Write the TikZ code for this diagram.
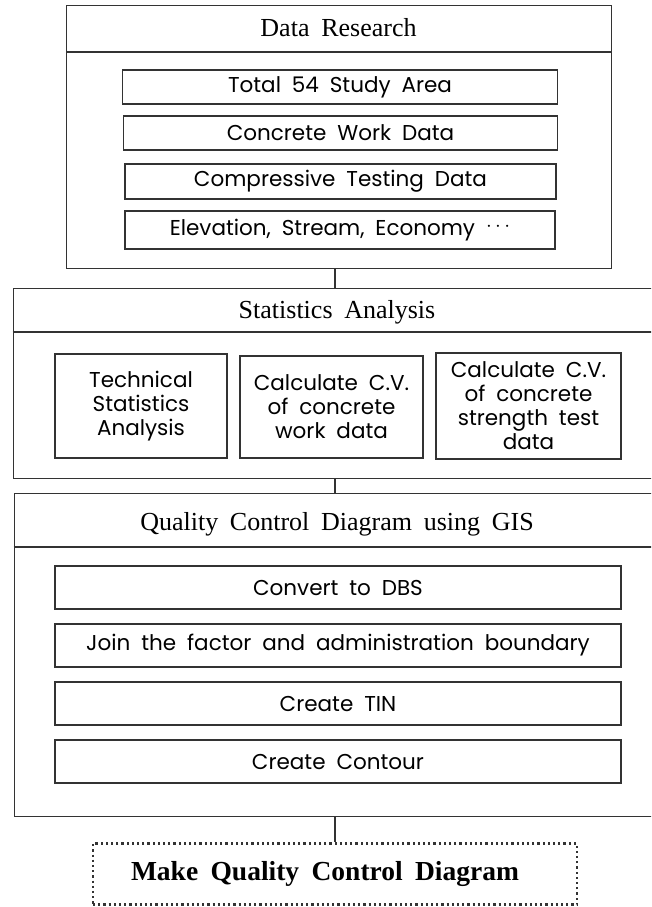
\documentclass[tikz,border=0pt]{standalone}
\usepackage{fontspec}
\setmainfont[WordSpace=1.8]{Liberation Serif}
\newfontfamily\boxfont[WordSpace=1.9]{Poppins}
\definecolor{ln}{HTML}{333333}
\begin{document}
\begin{tikzpicture}[x=1pt,y=-1pt,
  frame/.style={draw=ln,line width=1.3pt,rectangle,inner sep=0pt,anchor=north west},
  inbox/.style={draw=ln,line width=1.6pt,rectangle,inner sep=0pt,font=\boxfont\fontsize{21.5}{24}\selectfont,align=center},
  ttl/.style={font=\fontsize{26}{30}\selectfont,inner sep=0pt},
  conn/.style={draw=ln,line width=1.3pt}]
\useasboundingbox (0,0) rectangle (651,907);
\clip (0,0) rectangle (651,907);
\coordinate (cx) at (335,0);
% Data research
\node[frame,minimum width=545pt,minimum height=263pt] (box1) at (66,5) {};
\draw[conn] (66,52) -- (611,52);
\node[ttl] (t1) at (338.5,28) {Data Research};
\node[inbox,minimum width=435pt,minimum height=34pt] (d1) at (340,87) {Total 54 Study Area};
\node[inbox,minimum width=434pt,minimum height=34pt] (d2) at (340.5,133) {Concrete Work Data};
\node[inbox,minimum width=431pt,minimum height=35pt] (d3) at (340.5,181.5) {Compressive Testing Data};
\node[inbox,minimum width=430pt,minimum height=38pt] (d4) at (340,230) {Elevation, Stream, Economy \raisebox{0.3ex}{$\cdots$}};
% Statistics
\node[frame,minimum width=651pt,minimum height=190pt] (box2) at (12.5,288) {};
\draw[conn] (12.5,332) -- (664,332);
\node[ttl] (t2) at (337,312) {Statistics Analysis};
\node[inbox,minimum width=172pt,minimum height=104pt] (s1) at (141,406) {Technical\\Statistics\\Analysis};
\node[inbox,minimum width=183pt,minimum height=102pt] (s2) at (331.5,407) {Calculate C.V.\\of concrete\\work data};
\node[inbox,minimum width=185pt,minimum height=106pt] (s3) at (528.5,406) {Calculate C.V.\\of concrete\\strength test\\data};
% QC
\node[frame,minimum width=651pt,minimum height=323pt] (box3) at (13.5,493) {};
\draw[conn] (13.5,547) -- (664,547);
\node[ttl] (t3) at (337,524) {Quality Control Diagram using GIS};
\node[inbox,minimum width=566pt,minimum height=43pt] (q1) at (338,587.5) {Convert to DBS};
\node[inbox,minimum width=566pt,minimum height=43pt] (q2) at (338,645.5) {Join the factor and administration boundary};
\node[inbox,minimum width=566pt,minimum height=43pt] (q3) at (338,703.5) {Create TIN};
\node[inbox,minimum width=566pt,minimum height=43pt] (q4) at (338,761.5) {Create Contour};
% final
\node[draw=ln,line width=2.2pt,dash pattern=on 2.2pt off 3pt,minimum width=484pt,minimum height=61pt,inner sep=0pt,font=\bfseries\fontsize{27.5}{32}\selectfont] (fin) at (335,874) {Make Quality Control Diagram\hspace*{20pt}};
% connectors
\draw[conn] (box1.south -| cx) -- (box2.north -| cx);
\draw[conn] (box2.south -| cx) -- (box3.north -| cx);
\draw[conn] (box3.south -| cx) -- (fin.north -| cx);
\end{tikzpicture}
\end{document}
